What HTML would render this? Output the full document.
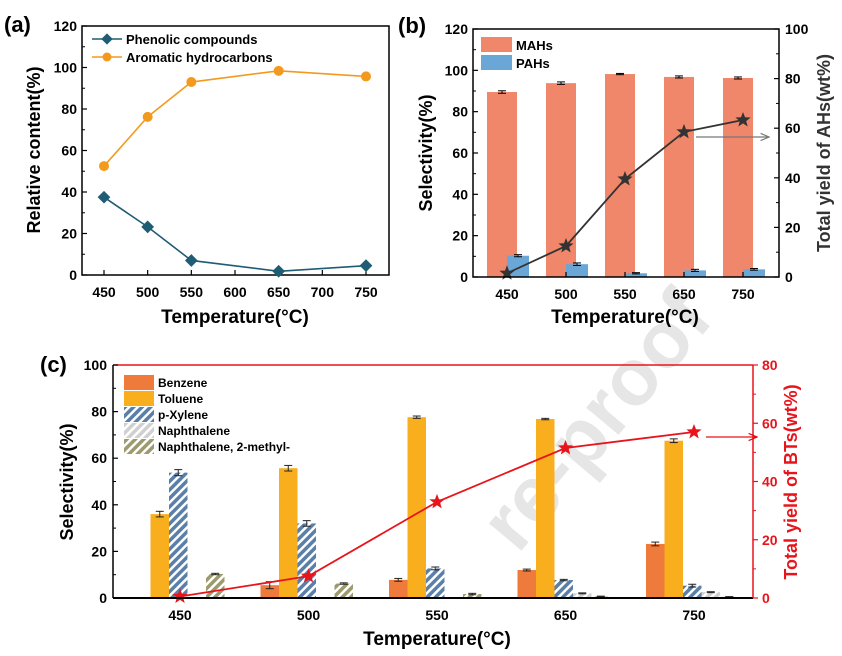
<!DOCTYPE html>
<html><head><meta charset="utf-8"><style>
html,body{margin:0;background:#fff;overflow:hidden;width:842px;height:656px;}
svg{display:block;overflow:hidden;}
svg text{font-family:"Liberation Sans",sans-serif;font-weight:bold;}
</style></head><body>
<svg id="s" width="842" height="656" viewBox="0 0 842 656" xmlns="http://www.w3.org/2000/svg">
<defs>
<pattern id="hx" width="6" height="6" patternUnits="userSpaceOnUse" patternTransform="rotate(45)"><rect width="6" height="6" fill="#5a7fa8"/><rect width="2.5" height="6" fill="#fff"/></pattern>
<pattern id="hn" width="6" height="6" patternUnits="userSpaceOnUse" patternTransform="rotate(45)"><rect width="6" height="6" fill="#d0d0d0"/><rect width="2.5" height="6" fill="#fff"/></pattern>
<pattern id="hm" width="6" height="6" patternUnits="userSpaceOnUse" patternTransform="rotate(45)"><rect width="6" height="6" fill="#9c9a6e"/><rect width="2.5" height="6" fill="#fff"/></pattern>
<marker id="ag" markerWidth="8" markerHeight="8" refX="7" refY="4" orient="auto"><path d="M0,1 L7,4 L0,7" fill="none" stroke="#777" stroke-width="1"/></marker>
<marker id="ar" markerWidth="8" markerHeight="8" refX="7" refY="4" orient="auto"><path d="M0,1 L7,4 L0,7" fill="none" stroke="#e00" stroke-width="1"/></marker>
</defs>
<text x="0" y="0" font-size="80" fill="#e6e6e6" text-anchor="end" transform="translate(715,320) rotate(-50)">re-proof</text>
<g id="g"></g>
</svg>
<script>
// Panel a data
const aCats=[450,500,550,650,750];
const aPhenolic=[37.5,23.2,7,1.8,4.5];
const aAromatic=[52.5,76.2,93,98.4,95.7];
const aXTicks=[450,500,550,600,650,700,750];
const aYTicks=[0,20,40,60,80,100,120];
// Panel b data
const bCats=["450","500","550","650","750"];
const bMAHs=[89.5,93.8,98.2,96.8,96.3];
const bMAHsErr=[0.6,0.6,0.3,0.5,0.5];
const bPAHs=[10.3,6.2,1.8,3.2,3.7];
const bPAHsErr=[0.5,0.6,0.3,0.5,0.4];
const bYield=[1.5,12.5,39.5,58.5,63.3];
const bYTicks=[0,20,40,60,80,100,120];
const bY2Ticks=[0,20,40,60,80,100];
// Panel c data
const cCats=["450","500","550","650","750"];
const cBenzene=[0,5.5,7.8,12,23.2];
const cToluene=[36,55.7,77.6,76.8,67.5];
const cXylene=[53.8,32,12.7,7.7,5.3];
const cNaph=[0,0,0,2,2.5];
const cMethyl=[10.3,6.2,1.7,0.6,0.5];
const cErr=[[0,1.5,0.6,0.4,0.8],[1.2,1.2,0.5,0.3,0.8],[1.3,1.2,0.6,0.3,0.6],[0,0,0,0.2,0.2],[0.3,0.3,0.3,0.2,0.1]];
const cYield=[0.5,7.5,33,51.5,57];
const cYTicks=[0,20,40,60,80,100];
const cY2Ticks=[0,20,40,60,80];

const NS="http://www.w3.org/2000/svg";
const G=document.getElementById('g');
function el(tag,attrs,txt,parent){const e=document.createElementNS(NS,tag);for(const k in attrs)e.setAttribute(k,attrs[k]);if(txt!==undefined)e.textContent=txt;(parent||G).appendChild(e);return e;}
function star(cx,cy,r,fill){let p=[];for(let i=0;i<10;i++){const rr=i%2?r*0.42:r;const a=-Math.PI/2+i*Math.PI/5;p.push((cx+rr*Math.cos(a)).toFixed(1)+","+(cy+rr*Math.sin(a)).toFixed(1));}return el('polygon',{points:p.join(' '),fill:fill});}

// ---------- Panel a ----------
{
const L=82,R=389,T=26,B=275;
const x=v=>104+(v-450)*(366-104)/300, y=v=>B-(v/120)*(B-T);
const fr=el('rect',{x:L,y:T,width:R-L,height:B-T,fill:'none',stroke:'#000','stroke-width':1.5});

aYTicks.forEach(t=>{el('line',{x1:L,x2:L+5,y1:y(t),y2:y(t),stroke:'#000','stroke-width':1.2});if(t<120)el('line',{x1:L,x2:L+3,y1:y(t+10),y2:y(t+10),stroke:'#000'});
 const tx=el('text',{x:L-5,y:y(t)+5,'font-size':14,'text-anchor':'end'},t);});
aXTicks.forEach(t=>{el('line',{x1:x(t),x2:x(t),y1:B,y2:B-5,stroke:'#000','stroke-width':1.2});
 const tx=el('text',{x:x(t),y:B+22,'font-size':14,'text-anchor':'middle'},t);});
const la=el('text',{x:4,y:32,'font-size':22},'(a)');
const yt=el('text',{x:0,y:0,'font-size':18,'text-anchor':'middle',transform:'translate(40,150) rotate(-90)'},'Relative content(%)');
const xt=el('text',{x:235,y:323,'font-size':19,'text-anchor':'middle'},'Temperature(°C)');
const l1=el('polyline',{points:aCats.map((c,i)=>x(c)+','+y(aPhenolic[i])).join(' '),fill:'none',stroke:'#1e5d73','stroke-width':1.6});

aCats.forEach((c,i)=>{const m=el('rect',{x:x(c)-4.5,y:y(aPhenolic[i])-4.5,width:9,height:9,fill:'#1e5d73',transform:`rotate(45 ${x(c)} ${y(aPhenolic[i])})`});});
const l2=el('polyline',{points:aCats.map((c,i)=>x(c)+','+y(aAromatic[i])).join(' '),fill:'none',stroke:'#f39a1e','stroke-width':1.6});

aCats.forEach((c,i)=>{const m=el('circle',{cx:x(c),cy:y(aAromatic[i]),r:5,fill:'#f39a1e'});});
el('line',{x1:92,x2:122,y1:39,y2:39,stroke:'#1e5d73','stroke-width':1.6});el('rect',{x:103,y:35,width:8,height:8,fill:'#1e5d73',transform:'rotate(45 107 39)'});
const le1=el('text',{x:126,y:44,'font-size':13},'Phenolic compounds');
el('line',{x1:92,x2:122,y1:57,y2:57,stroke:'#f39a1e','stroke-width':1.6});el('circle',{cx:107,cy:57,r:4.5,fill:'#f39a1e'});
const le2=el('text',{x:126,y:62,'font-size':13},'Aromatic hydrocarbons');
}

// ---------- Panel b ----------
{
const L=473,R=779,T=29,B=277;
const xc=i=>507+i*59, y=v=>B-(v/120)*(B-T), y2=v=>B-(v/100)*(B-T);
bCats.forEach((c,i)=>{
 const r1=el('rect',{x:xc(i)-20,y:y(bMAHs[i]),width:30,height:B-y(bMAHs[i]),fill:'#f0866a'});
 el('line',{x1:xc(i)-5,x2:xc(i)-5,y1:y(bMAHs[i]+bMAHsErr[i]),y2:y(bMAHs[i]-bMAHsErr[i]),stroke:'#000'});
 [bMAHs[i]+bMAHsErr[i],bMAHs[i]-bMAHsErr[i]].forEach(v=>el('line',{x1:xc(i)-9,x2:xc(i)-1,y1:y(v),y2:y(v),stroke:'#000'}));
 const r2=el('rect',{x:xc(i),y:y(bPAHs[i]),width:22,height:B-y(bPAHs[i]),fill:'#6aa6d6'});
 [bPAHs[i]+bPAHsErr[i],bPAHs[i]-bPAHsErr[i]].forEach(v=>el('line',{x1:xc(i)+7,x2:xc(i)+15,y1:y(v),y2:y(v),stroke:'#000'}));
 el('line',{x1:xc(i)+11,x2:xc(i)+11,y1:y(bPAHs[i]+bPAHsErr[i]),y2:y(bPAHs[i]-bPAHsErr[i]),stroke:'#000'});
 const tx=el('text',{x:xc(i),y:B+22,'font-size':14,'text-anchor':'middle'},c);
 el('line',{x1:xc(i),x2:xc(i),y1:B,y2:B-5,stroke:'#000','stroke-width':1.2});
});
const ln=el('polyline',{points:bCats.map((c,i)=>xc(i)+','+y2(bYield[i])).join(' '),fill:'none',stroke:'#333','stroke-width':1.8});

bCats.forEach((c,i)=>{const s=star(xc(i),y2(bYield[i]),8,'#333');});
const fr=el('rect',{x:L,y:T,width:R-L,height:B-T,fill:'none',stroke:'#000','stroke-width':1.5});
bYTicks.forEach(t=>{el('line',{x1:L,x2:L+5,y1:y(t),y2:y(t),stroke:'#000','stroke-width':1.2});if(t<120)el('line',{x1:L,x2:L+3,y1:y(t+10),y2:y(t+10),stroke:'#000'});
 const tx=el('text',{x:L-5,y:y(t)+5,'font-size':14,'text-anchor':'end'},t);});
bY2Ticks.forEach(t=>{el('line',{x1:R,x2:R-5,y1:y2(t),y2:y2(t),stroke:'#000','stroke-width':1.2});if(t<100)el('line',{x1:R,x2:R-3,y1:y2(t+10),y2:y2(t+10),stroke:'#000'});
 const tx=el('text',{x:R+6,y:y2(t)+5,'font-size':14},t);});
const ar=el('line',{x1:696,x2:769,y1:137,y2:137,stroke:'#777','stroke-width':1.2,'marker-end':'url(#ag)'});
const lb=el('text',{x:398,y:33,'font-size':22},'(b)');
const yt=el('text',{x:0,y:0,'font-size':18,'text-anchor':'middle',transform:'translate(432,153) rotate(-90)'},'Selectivity(%)');
const yt2=el('text',{x:0,y:0,'font-size':18,'text-anchor':'middle',fill:'#333',transform:'translate(830,153) rotate(-90)'},'Total yield of AHs(wt%)');
const xt=el('text',{x:625,y:323,'font-size':19,'text-anchor':'middle'},'Temperature(°C)');
el('rect',{x:481,y:37,width:31,height:15,fill:'#f0866a'});
const l1=el('text',{x:516,y:50,'font-size':13},'MAHs');
el('rect',{x:481,y:55,width:31,height:15,fill:'#6aa6d6'});
const l2=el('text',{x:516,y:68,'font-size':13},'PAHs');
}

// ---------- Panel c ----------
{
const L=113,R=753,T=365,B=598;
const xc=i=>180+i*128.5, y=v=>B-(v/100)*(B-T), y2=v=>B-(v/80)*(B-T);
const series=[cBenzene,cToluene,cXylene,cNaph,cMethyl];
const fills=['#ee7a3c','#f8ae1d','url(#hx)','url(#hn)','url(#hm)'];
const names=['benzene','toluene','p-xylene','naphthalene','2-methylnaphthalene'];
cCats.forEach((c,i)=>{
 series.forEach((s,k)=>{
  if(s[i]<=0)return;
  const bx=xc(i)-48+k*18.5;
  const r=el('rect',{x:bx,y:y(s[i]),width:18.5,height:B-y(s[i]),fill:fills[k]});
  const e=cErr[k][i],m=bx+9.25;
  el('line',{x1:m,x2:m,y1:y(s[i]+e),y2:y(s[i]-e),stroke:'#222'});
  [s[i]+e,s[i]-e].forEach(v=>el('line',{x1:m-4,x2:m+4,y1:y(v),y2:y(v),stroke:'#222'}));
 });
 const tx=el('text',{x:xc(i),y:B+22,'font-size':14,'text-anchor':'middle'},c);
});
const ln=el('polyline',{points:cCats.map((c,i)=>xc(i)+','+y2(cYield[i])).join(' '),fill:'none',stroke:'#e8141c','stroke-width':1.8});

cCats.forEach((c,i)=>{const s=star(xc(i),y2(cYield[i]),8,'#e8141c');});
el('line',{x1:L,x2:L,y1:T,y2:B,stroke:'#000','stroke-width':1.5});
const ax=el('line',{x1:L,x2:R,y1:B,y2:B,stroke:'#000','stroke-width':2});
el('line',{x1:L,x2:R,y1:T,y2:T,stroke:'#e8141c','stroke-width':1.5});
el('line',{x1:R,x2:R,y1:T,y2:B,stroke:'#e8141c','stroke-width':1.5});
cYTicks.forEach(t=>{el('line',{x1:L,x2:L+5,y1:y(t),y2:y(t),stroke:'#000','stroke-width':1.2});if(t<100)el('line',{x1:L,x2:L+3,y1:y(t+10),y2:y(t+10),stroke:'#000'});
 const tx=el('text',{x:L-6,y:y(t)+5,'font-size':14,'text-anchor':'end'},t);});
cY2Ticks.forEach(t=>{el('line',{x1:R,x2:R+5,y1:y2(t),y2:y2(t),stroke:'#e8141c','stroke-width':1.2});if(t<80)el('line',{x1:R,x2:R+3,y1:y2(t+10),y2:y2(t+10),stroke:'#e8141c'});
 const tx=el('text',{x:R+9,y:y2(t)+5,'font-size':14,fill:'#e8141c'},t);});
const ar=el('line',{x1:706,x2:757,y1:437,y2:437,stroke:'#e8141c','stroke-width':1.2,'marker-end':'url(#ar)'});
const lc=el('text',{x:40,y:372,'font-size':22},'(c)');
const yt=el('text',{x:0,y:0,'font-size':18,'text-anchor':'middle',transform:'translate(73,482) rotate(-90)'},'Selectivity(%)');
const yt2=el('text',{x:0,y:0,'font-size':18,'text-anchor':'middle',fill:'#e8141c',transform:'translate(797,482) rotate(-90)'},'Total yield of BTs(wt%)');
const xt=el('text',{x:437,y:645,'font-size':19,'text-anchor':'middle'},'Temperature(°C)');
const lab=['Benzene','Toluene','p-Xylene','Naphthalene','Naphthalene, 2-methyl-'];
lab.forEach((t,k)=>{el('rect',{x:124,y:375+k*16,width:30,height:15,fill:fills[k]});
 const tx=el('text',{x:158,y:387+k*16,'font-size':12},t);});
}
</script>
</body></html>
